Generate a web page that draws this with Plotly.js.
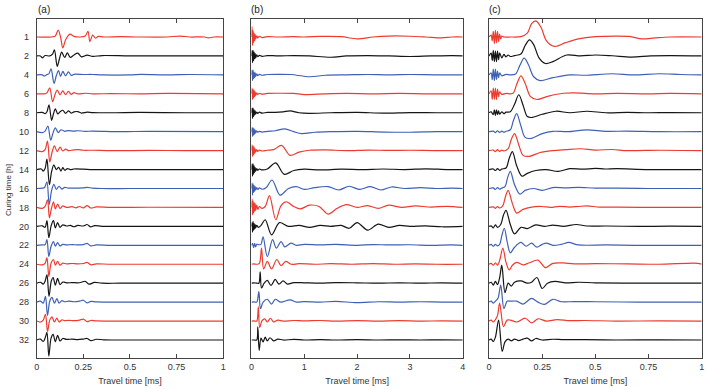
<!DOCTYPE html>
<html><head><meta charset="utf-8">
<script src="https://cdn.plot.ly/plotly-3.0.1.min.js"></script>
<style>body{margin:0;background:#fff}#chart{width:707px;height:389px}</style>
</head><body><div id="chart"></div>
<script>
// Curing-time labels (h), one per trace, top to bottom
const curingLabels = ['1','2','4','6','8','10','12','14','16','18','20','22','24','26','28','30','32'];
const panelTitles = ['(a)','(b)','(c)'];
const xTicksA = [0,0.25,0.5,0.75,1], xTickTextA = ['0','0.25','0.5','0.75','1'];
const xTicksB = [0,1,2,3,4], xTickTextB = ['0','1','2','3','4'];
const xTicksC = [0,0.25,0.5,0.75,1], xTickTextC = ['0','0.25','0.5','0.75','1'];

// ---- Panel (a): time [ms], normalised amplitude ----
const a01_t=[0,0.08,0.1,0.115,0.128,0.14,0.155,0.178,0.2,0.23,0.26,0.275,0.285,0.3,0.315,0.33,0.36,0.45,0.55,0.7,0.77,0.82,0.9,0.92,0.95,1];
const a01_v=[0,0,0.05,0.37,0,-0.58,-0.15,0.15,0.03,0,0.05,0.3,-0.25,0.1,-0.06,0.03,0,0.02,0,0,0.05,0,0,-0.05,0,0];
const a02_t=[0,0.02,0.03,0.045,0.07,0.085,0.095,0.11,0.122,0.134,0.15,0.164,0.18,0.2,0.22,0.24,0.27,0.3,0.35,0.5,0.7,1];
const a02_v=[0,0,-0.1,0.02,0,0.1,0.32,-0.55,-0.15,0.2,-0.08,0.16,-0.08,0.05,0.15,-0.05,0.04,-0.02,0.02,0,0,0];
const a03_t=[0,0.03,0.04,0.055,0.065,0.077,0.093,0.105,0.117,0.128,0.14,0.155,0.17,0.185,0.2,0.25,0.3,0.35,0.5,0.56,0.7,0.82,1];
const a03_v=[0,0,-0.06,0.02,0.05,0.32,-0.45,-0.05,0.22,-0.08,0.18,-0.05,0.16,-0.03,0.03,0.02,0.02,0,0,0.03,0,0.02,0];
const a04_t=[0,0.04,0.055,0.07,0.085,0.098,0.11,0.125,0.14,0.155,0.17,0.185,0.2,0.22,0.26,0.3,0.4,0.55,0.7,1];
const a04_v=[0,0,0.05,0.32,-0.42,-0.05,0.2,-0.05,0.16,-0.05,0.13,-0.03,0.06,0,0.03,0,0.01,0,0.02,0];
const a05_t=[0,0.03,0.045,0.055,0.066,0.08,0.09,0.1,0.113,0.125,0.14,0.155,0.17,0.185,0.2,0.22,0.24,0.27,0.3,0.4,0.55,0.8,1];
const a05_v=[0,0.02,-0.05,0.05,0.42,-0.4,-0.05,0.2,-0.06,0.05,0.13,-0.03,0.1,-0.02,0.05,0.06,-0.02,0.03,0.01,0,0.02,0,0];
const a06_t=[0,0.03,0.045,0.06,0.075,0.088,0.1,0.115,0.13,0.15,0.17,0.2,0.22,0.26,0.3,0.45,0.6,1];
const a06_v=[0,-0.05,0.03,0.3,-0.45,-0.05,0.2,-0.05,0.1,0.02,0.06,0.03,0.05,0.02,0.03,0,0.02,0];
const a07_t=[0,0.03,0.045,0.058,0.07,0.082,0.095,0.11,0.125,0.14,0.155,0.17,0.2,0.22,0.25,0.3,0.4,0.6,0.8,1];
const a07_v=[0,-0.05,0.05,0.5,-0.6,-0.1,0.25,-0.05,0.18,-0.02,0.08,0,0.04,0.05,0.02,0.02,0,0.01,0,0];
const a08_t=[0,0.025,0.035,0.045,0.055,0.068,0.08,0.092,0.105,0.118,0.13,0.14,0.15,0.165,0.18,0.2,0.25,0.3,0.4,1];
const a08_v=[0,0.03,-0.08,0.05,0.55,-0.8,-0.1,0.25,0,0.12,-0.08,0.1,-0.03,0.05,0,0.03,0.02,0,0,0];
const a09_t=[0,0.03,0.042,0.055,0.067,0.08,0.092,0.105,0.12,0.135,0.15,0.17,0.2,0.25,0.27,0.3,0.35,0.5,1];
const a09_v=[0,0.02,0.05,0.35,-0.85,-0.1,0.22,-0.05,0.12,-0.03,0.06,0.02,0.02,0.03,0.06,0.02,0,0,0];
const a10_t=[0,0.03,0.045,0.058,0.068,0.078,0.09,0.1,0.112,0.125,0.14,0.16,0.19,0.21,0.23,0.25,0.27,0.29,0.32,0.4,0.6,1];
const a10_v=[0,-0.05,0.05,0.4,-0.55,-0.1,0.3,-0.08,0.18,-0.05,0.08,0,0.04,-0.02,0.05,-0.02,0.1,-0.03,0.03,0,0.01,0];
const a11_t=[0,0.03,0.045,0.055,0.065,0.078,0.09,0.1,0.112,0.125,0.14,0.16,0.18,0.2,0.22,0.25,0.27,0.29,0.31,0.35,0.45,1];
const a11_v=[0,0.03,-0.05,0.3,-0.6,0.05,0.3,-0.08,0.2,-0.05,0.08,0.02,0.05,-0.02,0.05,0.02,0.1,-0.03,0.04,0,0,0];
const a12_t=[0,0.03,0.045,0.055,0.065,0.077,0.09,0.1,0.112,0.125,0.14,0.16,0.19,0.22,0.25,0.27,0.29,0.32,0.4,1];
const a12_v=[0,0.02,0.03,0.3,-0.6,-0.05,0.2,-0.05,0.14,-0.03,0.05,0.02,0.04,0.02,0.04,0.1,-0.03,0.02,0,0];
const a13_t=[0,0.03,0.045,0.055,0.065,0.077,0.09,0.1,0.112,0.125,0.14,0.16,0.19,0.22,0.25,0.27,0.29,0.32,0.4,1];
const a13_v=[0,-0.03,0.05,0.35,-0.65,0.05,0.25,-0.05,0.15,-0.05,0.06,0.02,0.04,0.02,0.04,0.1,-0.03,0.02,0,0];
const a14_t=[0,0.02,0.035,0.045,0.055,0.066,0.078,0.088,0.1,0.112,0.125,0.14,0.16,0.19,0.22,0.24,0.26,0.28,0.31,0.35,0.45,1];
const a14_v=[0,0.05,-0.05,0.1,0.45,-0.7,0.1,0.3,-0.1,0.25,-0.08,0.06,0.02,0.03,0.02,0.05,0.1,-0.05,0.04,0,0,0];
const a15_t=[0,0.02,0.035,0.047,0.058,0.07,0.082,0.095,0.108,0.12,0.135,0.15,0.17,0.2,0.23,0.25,0.27,0.29,0.32,0.4,1];
const a15_v=[0,0.05,-0.05,0.3,-0.7,0.05,0.25,-0.05,0.18,-0.05,0.08,0.02,0.05,0.02,0.05,0.1,-0.04,0.04,0.01,0,0];
const a16_t=[0,0.02,0.035,0.047,0.058,0.07,0.082,0.095,0.108,0.12,0.135,0.15,0.17,0.2,0.23,0.25,0.27,0.29,0.32,0.4,1];
const a16_v=[0,-0.05,0.05,0.35,-0.55,0.05,0.22,-0.05,0.16,-0.05,0.06,0.02,0.04,0.02,0.05,0.1,-0.03,0.03,0.01,0,0];
const a17_t=[0,0.02,0.035,0.045,0.055,0.065,0.077,0.088,0.1,0.112,0.125,0.14,0.16,0.19,0.22,0.25,0.27,0.29,0.32,0.36,0.45,1];
const a17_v=[0,0.05,-0.08,0.1,0.4,-0.85,0.1,0.3,-0.1,0.25,-0.05,0.08,0.03,0.05,0.02,0.05,0.08,-0.03,0.04,0.01,0,0];

// ---- Panel (b) ----
const b01_t=[0,0.01,0.02,0.03,0.04,0.05,0.06,0.07,0.08,0.1,0.12,0.15,0.2,0.3,0.5,0.8,1.0,1.3,1.7,2.0,2.3,2.6,3.0,3.3,3.6,3.8,4];
const b01_v=[0,0.55,-0.45,0.35,-0.3,0.2,-0.2,0.12,-0.1,0.06,-0.05,0.04,-0.03,0.02,0,0.02,0,0.03,0.02,-0.1,0,0.05,0.04,0,-0.05,0,0];
const b02_t=[0,0.01,0.02,0.03,0.04,0.05,0.06,0.07,0.08,0.1,0.12,0.15,0.2,0.3,0.5,0.8,1.1,1.5,1.8,2.2,2.6,3.0,3.4,3.8,4];
const b02_v=[0,0.3,-0.35,0.3,-0.25,0.2,-0.15,0.12,-0.1,0.06,-0.04,0.03,-0.02,0.02,0,0.02,0,-0.07,0,0.02,0,-0.03,0,0.02,0];
const b03_t=[0,0.01,0.02,0.03,0.04,0.05,0.06,0.07,0.08,0.1,0.12,0.15,0.2,0.3,0.5,0.75,1.1,1.4,1.8,2.2,2.6,3.0,3.5,4];
const b03_v=[0,0.25,-0.3,0.25,-0.2,0.15,-0.15,0.1,-0.08,0.05,-0.04,0.03,-0.02,0.02,0.03,0.02,-0.1,-0.02,0,0.02,0,0.02,0,0];
const b04_t=[0,0.01,0.02,0.03,0.04,0.05,0.06,0.07,0.08,0.1,0.12,0.15,0.2,0.3,0.5,0.8,1.0,1.4,1.8,2.3,2.8,3.3,3.8,4];
const b04_v=[0,0.3,-0.3,0.25,-0.22,0.18,-0.15,0.1,-0.08,0.05,-0.04,0.03,-0.02,0.02,0.03,0.02,-0.04,0,0.02,0,0.02,0,0,0];
const b05_t=[0,0.01,0.02,0.03,0.04,0.05,0.06,0.07,0.08,0.1,0.12,0.15,0.2,0.3,0.45,0.6,0.73,0.9,1.1,1.5,2.0,2.5,3.0,3.5,4];
const b05_v=[0,0.25,-0.3,0.25,-0.2,0.15,-0.12,0.1,-0.06,0.04,-0.03,0.03,-0.02,0.02,0.02,0.05,0.1,0,-0.03,0,0.02,-0.02,0.01,0,0];
const b06_t=[0,0.01,0.02,0.03,0.04,0.05,0.06,0.07,0.08,0.1,0.12,0.15,0.2,0.3,0.45,0.63,0.8,0.95,1.2,1.5,2.0,2.5,3.0,3.5,4];
const b06_v=[0,0.22,-0.25,0.2,-0.18,0.15,-0.12,0.08,-0.06,0.04,-0.03,0.02,-0.02,0.02,0.05,0.15,0,-0.1,-0.03,0,0.02,-0.02,-0.03,0,0];
const b07_t=[0,0.01,0.02,0.03,0.04,0.05,0.06,0.07,0.08,0.1,0.12,0.15,0.2,0.3,0.42,0.57,0.73,0.9,1.1,1.4,1.8,2.2,2.6,3.0,3.5,4];
const b07_v=[0,0.3,-0.3,0.25,-0.22,0.18,-0.15,0.1,-0.08,0.05,-0.04,0.03,-0.02,0.02,0.05,0.28,-0.25,-0.08,0.02,0.04,0,0.03,0.01,0.02,0,0];
const b08_t=[0,0.01,0.02,0.03,0.04,0.05,0.06,0.07,0.08,0.1,0.12,0.15,0.2,0.3,0.46,0.62,0.8,1.0,1.3,1.7,2.1,2.5,2.9,3.3,3.7,4];
const b08_v=[0,0.3,-0.35,0.3,-0.25,0.2,-0.15,0.1,-0.08,0.05,-0.04,0.03,-0.02,0.03,0.35,-0.25,-0.05,0.02,-0.02,0.02,0,0.03,0,0.04,0,0];
const b09_t=[0,0.01,0.02,0.03,0.04,0.05,0.06,0.07,0.08,0.1,0.12,0.15,0.2,0.28,0.39,0.54,0.7,0.85,1.0,1.2,1.45,1.65,1.85,2.05,2.25,2.45,2.65,2.9,3.2,3.5,3.8,4];
const b09_v=[0,0.3,-0.35,0.25,-0.2,0.15,-0.15,0.1,-0.08,0.05,-0.05,0.03,-0.04,0.05,0.45,-0.35,0,0.1,-0.05,0.05,0.1,-0.08,0.12,-0.05,0.1,-0.08,0.08,0,0.05,0,0.02,0];
const b10_t=[0,0.01,0.02,0.03,0.04,0.05,0.06,0.07,0.08,0.1,0.12,0.15,0.2,0.26,0.34,0.46,0.56,0.66,0.8,0.92,1.1,1.28,1.45,1.62,1.8,2.0,2.2,2.4,2.6,2.85,3.1,3.4,3.7,4];
const b10_v=[0,0.45,-0.4,0.35,-0.3,0.25,-0.2,0.2,-0.15,0.12,-0.1,0.05,-0.05,0.05,0.62,-0.65,0.1,0.3,0.05,-0.08,0.12,0.05,-0.35,-0.05,0.15,0,0.1,-0.05,0.12,0,0.08,0.02,0.06,0];
const b11_t=[0,0.01,0.02,0.03,0.04,0.05,0.06,0.07,0.08,0.1,0.13,0.18,0.26,0.38,0.53,0.7,0.9,1.1,1.3,1.5,1.7,1.85,2.0,2.2,2.4,2.6,2.8,3.0,3.3,3.6,4];
const b11_v=[0,0.2,-0.3,0.25,-0.2,0.15,-0.15,0.1,-0.08,0.06,-0.05,0.05,0.35,-0.45,0.2,0,0.05,-0.05,0.05,0,0.05,-0.1,0.2,-0.2,0.12,-0.05,0.05,0,0.03,-0.02,0];
const b12_t=[0,0.02,0.04,0.06,0.08,0.1,0.14,0.18,0.22,0.3,0.4,0.47,0.56,0.63,0.75,0.85,1.0,1.3,1.6,2.0,2.3,2.6,3.0,3.4,3.8,4];
const b12_v=[0,0.1,-0.12,0.1,-0.08,0.06,0.03,0.05,0.45,-0.6,0.3,-0.15,0.2,-0.08,0.12,0,0.05,0.02,0.05,0,0.04,0.02,0.03,0,0.02,0];
const b13_t=[0,0.04,0.1,0.15,0.19,0.23,0.3,0.38,0.48,0.56,0.65,0.75,0.9,1.2,1.5,1.9,2.3,2.7,3.1,3.5,4];
const b13_v=[0,0.02,0,0.05,0.85,-0.25,0.15,-0.25,0.25,-0.08,0.15,0,0.03,0,0.03,0,0.03,0,0.02,0,0];
const b14_t=[0,0.05,0.1,0.14,0.165,0.19,0.24,0.3,0.37,0.45,0.52,0.6,0.68,0.8,1.0,1.3,1.6,2.0,2.4,2.8,3.2,3.6,4];
const b14_v=[0,0.02,0,0,0.6,-0.25,0,0.15,-0.12,0.2,-0.05,0.12,-0.05,0.03,0.02,0,0.03,0.02,0,0.02,0,0.02,0];
const b15_t=[0,0.05,0.1,0.14,0.17,0.22,0.3,0.38,0.45,0.55,0.73,0.85,1.0,1.3,1.6,2.0,2.4,2.8,3.2,3.6,4];
const b15_v=[0,0.01,0,0.55,-0.35,0,0.15,-0.1,0.15,0,0.12,0,0.03,0,0.04,-0.03,0.02,0,0.02,0,0];
const b16_t=[0,0.05,0.1,0.13,0.155,0.2,0.25,0.3,0.36,0.42,0.5,0.6,0.8,1.0,1.3,1.6,2.0,2.4,2.8,3.2,3.6,4];
const b16_v=[0,0.01,0,0.75,-0.35,0.02,0.12,-0.05,0.15,-0.05,0.05,0,0.03,0.01,0.03,0,0.02,0,0.02,0,0.01,0];
const b17_t=[0,0.05,0.1,0.12,0.145,0.18,0.22,0.26,0.3,0.35,0.42,0.5,0.6,0.8,1.0,1.3,1.6,2.0,2.4,2.8,3.2,3.6,4];
const b17_v=[0,0,0,0.7,-0.55,0.1,-0.1,0.15,-0.05,0.12,-0.05,0.05,0,0.03,0,0.02,0,0.02,0,0.01,0,0.01,0];

// ---- Panel (c) ----
const c01_t=[0,0.01,0.015,0.02,0.025,0.03,0.035,0.04,0.045,0.05,0.055,0.06,0.07,0.1,0.15,0.18,0.2,0.22,0.245,0.27,0.31,0.36,0.42,0.5,0.6,0.66,0.72,0.78,0.85,1];
const c01_v=[0,0.1,-0.2,0.3,-0.35,0.35,-0.3,0.3,-0.25,0.15,-0.1,0.05,0,0,0.02,0.2,0.7,0.85,0.5,-0.2,-0.5,-0.3,-0.1,0.02,0.05,0.03,-0.1,-0.05,0,0];
const c02_t=[0,0.01,0.015,0.02,0.025,0.03,0.035,0.04,0.045,0.05,0.06,0.07,0.08,0.09,0.1,0.12,0.15,0.17,0.19,0.21,0.235,0.265,0.3,0.365,0.43,0.5,0.58,0.67,0.76,0.85,1];
const c02_v=[0,0.15,-0.25,0.3,-0.3,0.25,-0.3,0.25,-0.2,0.15,-0.1,0.08,-0.05,0.05,-0.03,0.02,0.1,0.55,0.85,0.6,-0.1,-0.4,-0.3,0.05,0,0.05,0.01,-0.06,0,0.02,0];
const c03_t=[0,0.01,0.015,0.02,0.025,0.03,0.035,0.04,0.045,0.05,0.06,0.08,0.1,0.125,0.145,0.165,0.185,0.21,0.24,0.3,0.38,0.45,0.58,0.68,0.8,0.9,1];
const c03_v=[0,0.1,-0.25,0.3,-0.3,0.3,-0.25,0.2,-0.15,0.1,-0.05,0.03,0,0.05,0.5,0.88,0.55,-0.1,-0.3,-0.15,0,-0.02,0.06,0,0.06,0.02,0];
const c04_t=[0,0.01,0.015,0.02,0.025,0.03,0.035,0.04,0.045,0.05,0.06,0.08,0.1,0.115,0.13,0.15,0.17,0.195,0.225,0.28,0.35,0.4,0.5,0.6,0.75,0.85,1];
const c04_v=[0,0.15,-0.3,0.3,-0.3,0.3,-0.3,0.25,-0.15,0.1,-0.03,0.02,0,0.05,0.5,0.95,0.55,-0.15,-0.3,-0.12,0.03,0.05,0,0.02,0,0.02,0];
const c05_t=[0,0.01,0.02,0.025,0.03,0.035,0.04,0.045,0.05,0.06,0.07,0.08,0.1,0.12,0.14,0.16,0.18,0.2,0.25,0.315,0.38,0.46,0.55,0.65,0.75,0.85,1];
const c05_v=[0,0.05,-0.1,0.15,-0.15,0.15,-0.1,0.1,-0.08,0.05,-0.05,0.03,0.05,0.45,0.95,0.4,-0.2,-0.25,-0.08,0.08,0,0.08,0,0.02,0,0.01,0];
const c06_t=[0,0.02,0.03,0.04,0.05,0.06,0.07,0.08,0.1,0.115,0.13,0.15,0.17,0.2,0.25,0.3,0.37,0.46,0.55,0.65,0.8,1];
const c06_v=[0,0.03,-0.05,0.05,-0.04,0.03,-0.03,0.02,0.1,0.6,0.95,0.3,-0.3,-0.35,-0.1,0.02,0,0.1,0.02,0.03,0,0];
const c07_t=[0,0.02,0.03,0.04,0.05,0.06,0.07,0.09,0.105,0.12,0.14,0.16,0.19,0.24,0.3,0.36,0.43,0.5,0.58,0.65,0.8,1];
const c07_v=[0,0.03,-0.05,0.05,-0.04,0.03,-0.02,0.1,0.6,0.9,0.3,-0.25,-0.3,-0.1,0,0.05,0.1,0.03,0.06,0,0.02,0];
const c08_t=[0,0.02,0.03,0.04,0.05,0.06,0.08,0.095,0.11,0.13,0.155,0.18,0.22,0.27,0.325,0.38,0.44,0.5,0.545,0.6,0.75,1];
const c08_v=[0,0.03,-0.05,0.05,-0.04,0.03,0.08,0.6,0.95,0.2,-0.35,-0.2,-0.05,0,-0.1,0.05,0.02,0.06,0.03,0.05,0,0];
const c09_t=[0,0.02,0.03,0.04,0.05,0.06,0.075,0.088,0.1,0.12,0.145,0.17,0.21,0.25,0.3,0.36,0.42,0.5,0.6,0.75,1];
const c09_v=[0,0.03,-0.05,0.05,-0.04,0.03,0.1,0.6,0.9,0.2,-0.3,-0.1,0,-0.1,0.05,0.03,0.06,0.02,0.02,0,0];
const c10_t=[0,0.02,0.03,0.04,0.05,0.065,0.078,0.09,0.11,0.13,0.16,0.2,0.25,0.29,0.33,0.38,0.42,0.46,0.52,0.6,0.8,1];
const c10_v=[0,0.03,-0.05,0.05,-0.03,0.1,0.6,0.9,0.2,-0.3,-0.1,0.02,0.05,0,0.06,0.02,0.05,0.08,0.02,0.02,0,0];
const c11_t=[0,0.01,0.02,0.03,0.04,0.055,0.068,0.08,0.1,0.12,0.15,0.18,0.22,0.26,0.3,0.35,0.41,0.46,0.55,0.7,0.85,1];
const c11_v=[0,0.03,-0.08,0.08,-0.05,0.1,0.6,0.85,0.1,-0.4,-0.05,-0.12,0.08,0,0.07,0,0.1,0.02,0.02,0,0.01,0];
const c12_t=[0,0.01,0.02,0.03,0.04,0.05,0.06,0.072,0.085,0.1,0.12,0.15,0.175,0.2,0.225,0.25,0.27,0.3,0.34,0.375,0.42,0.55,0.7,1];
const c12_v=[0,0.05,-0.05,0.05,-0.03,0.05,0.5,0.9,0.2,-0.4,-0.1,0.15,-0.05,0.12,-0.1,0.05,0.12,0,0.05,0.15,0.02,0.02,0,0];
const c13_t=[0,0.01,0.02,0.03,0.04,0.05,0.065,0.08,0.095,0.11,0.13,0.16,0.19,0.23,0.265,0.3,0.35,0.4,0.5,0.65,0.8,0.98,1];
const c13_v=[0,0.05,-0.05,0.08,-0.05,0.2,0.85,0.1,-0.3,-0.05,0.1,-0.03,0.08,0.22,-0.18,0.05,0.07,0.02,0.03,0.02,0,0.05,0];
const c14_t=[0,0.01,0.02,0.03,0.04,0.05,0.06,0.075,0.09,0.105,0.12,0.15,0.18,0.2,0.225,0.25,0.275,0.31,0.36,0.42,0.5,0.7,1];
const c14_v=[0,0.05,-0.1,0.1,-0.08,0.3,0.95,-0.5,0,-0.15,0.05,0.12,0,0.05,0.3,-0.28,0,0.1,0.02,0.05,0.02,0,0];
const c15_t=[0,0.01,0.02,0.03,0.042,0.055,0.07,0.085,0.1,0.13,0.16,0.2,0.23,0.26,0.3,0.34,0.4,0.5,0.7,1];
const c15_v=[0,0.05,-0.05,0.05,0.2,0.9,-0.35,0.05,0.05,0.05,-0.1,0.2,0,-0.12,0.15,0.02,0.03,0.02,0,0];
const c16_t=[0,0.01,0.02,0.03,0.04,0.05,0.068,0.085,0.1,0.13,0.17,0.2,0.23,0.27,0.32,0.38,0.45,0.6,0.8,1];
const c16_v=[0,0.05,-0.05,0.08,0.3,0.95,-0.3,0.05,0.05,-0.05,0.15,-0.1,0.12,0,0.08,0.02,0.03,0,0.01,0];
const c17_t=[0,0.01,0.02,0.03,0.045,0.062,0.075,0.09,0.105,0.12,0.14,0.16,0.18,0.2,0.22,0.25,0.3,0.35,0.45,0.6,0.8,1];
const c17_v=[0,0.05,-0.08,0.15,1.05,-0.6,-0.1,0.05,-0.05,0.05,-0.03,0.05,0.1,-0.05,0.08,0,0.04,0.02,0.02,0,0.01,0];

const panelA=[[a01_t,a01_v],[a02_t,a02_v],[a03_t,a03_v],[a04_t,a04_v],[a05_t,a05_v],[a06_t,a06_v],[a07_t,a07_v],[a08_t,a08_v],[a09_t,a09_v],[a10_t,a10_v],[a11_t,a11_v],[a12_t,a12_v],[a13_t,a13_v],[a14_t,a14_v],[a15_t,a15_v],[a16_t,a16_v],[a17_t,a17_v]];
const panelB=[[b01_t,b01_v],[b02_t,b02_v],[b03_t,b03_v],[b04_t,b04_v],[b05_t,b05_v],[b06_t,b06_v],[b07_t,b07_v],[b08_t,b08_v],[b09_t,b09_v],[b10_t,b10_v],[b11_t,b11_v],[b12_t,b12_v],[b13_t,b13_v],[b14_t,b14_v],[b15_t,b15_v],[b16_t,b16_v],[b17_t,b17_v]];
const panelC=[[c01_t,c01_v],[c02_t,c02_v],[c03_t,c03_v],[c04_t,c04_v],[c05_t,c05_v],[c06_t,c06_v],[c07_t,c07_v],[c08_t,c08_v],[c09_t,c09_v],[c10_t,c10_v],[c11_t,c11_v],[c12_t,c12_v],[c13_t,c13_v],[c14_t,c14_v],[c15_t,c15_v],[c16_t,c16_v],[c17_t,c17_v]];

const colors=['#ee3b2f','#151515','#3f60b5'];
const traces=[];
[[panelA,'x','y'],[panelB,'x2','y2'],[panelC,'x3','y3']].forEach(([panel,xa,ya])=>{
  panel.forEach(([t,v],i)=>{
    traces.push({x:t,y:v.map(a=>a-i),xaxis:xa,yaxis:ya,type:'scatter',mode:'lines',
      line:{color:colors[i%3],width:1.2,shape:'spline',smoothing:0.9},hoverinfo:'skip',showlegend:false});
  });
});

const font='Liberation Sans, Arial, sans-serif';
function xax(domain,range,tv,tt,anchor){
  return {domain,range,tickvals:tv,ticktext:tt,ticks:'inside',ticklen:4,tickcolor:'#444',mirror:'ticks',
    showline:true,linecolor:'#444',linewidth:1,showgrid:false,zeroline:false,anchor,
    tickfont:{size:9,color:'#333',family:font},
    title:{text:'Travel time [ms]',font:{size:9,color:'#333',family:font},standoff:6}};
}
function yax(show,anchor){
  return {range:[-16.95,0.95],tickvals:curingLabels.map((_,i)=>-i),ticktext:curingLabels,showticklabels:show,
    ticks:'',showline:true,mirror:true,linecolor:'#444',linewidth:1,showgrid:false,zeroline:false,anchor,
    tickfont:{size:9,color:'#333',family:font},ticklabelstandoff:5};
}
const layout={width:707,height:389,margin:{l:0,r:0,t:19,b:31},paper_bgcolor:'#fff',plot_bgcolor:'#fff',
  xaxis:xax([0.0519,0.3158],[0,1],xTicksA,xTickTextA,'y'),
  xaxis2:xax([0.3557,0.6545],[0,4],xTicksB,xTickTextB,'y2'),
  xaxis3:xax([0.6917,0.9925],[0,1],xTicksC,xTickTextC,'y3'),
  yaxis:yax(true,'x'),yaxis2:yax(false,'x2'),yaxis3:yax(false,'x3'),
  annotations:[
    {text:panelTitles[0],xref:'paper',yref:'paper',x:36/707,y:1+(19-10)/339,xanchor:'left',yanchor:'middle',showarrow:false,font:{size:10,color:'#222',family:font}},
    {text:panelTitles[1],xref:'paper',yref:'paper',x:249/707,y:1+(19-10)/339,xanchor:'left',yanchor:'middle',showarrow:false,font:{size:10,color:'#222',family:font}},
    {text:panelTitles[2],xref:'paper',yref:'paper',x:487/707,y:1+(19-10)/339,xanchor:'left',yanchor:'middle',showarrow:false,font:{size:10,color:'#222',family:font}},
    {text:'Curing time [h]',xref:'paper',yref:'paper',x:8/707,y:(358-190)/339,xanchor:'center',yanchor:'middle',textangle:-90,showarrow:false,font:{size:8,color:'#333',family:font}}
  ]};
Plotly.newPlot('chart',traces,layout,{staticPlot:true});
</script></body></html>
